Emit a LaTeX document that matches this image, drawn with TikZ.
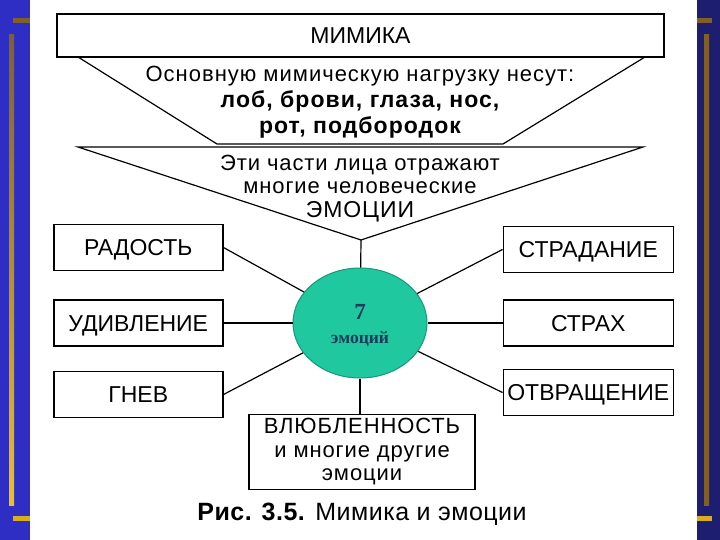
\documentclass[tikz,border=0pt]{standalone}
\usepackage{fontspec}
\setmainfont{Liberation Sans}
\newfontfamily\timesfont{Liberation Serif}
\usetikzlibrary{positioning,shapes.geometric}
\definecolor{slideblue}{RGB}{46,46,196}
\definecolor{slidenavy}{RGB}{30,30,112}
\definecolor{bargold}{RGB}{240,192,24}
\definecolor{bardark}{RGB}{128,96,40}
\definecolor{emofill}{RGB}{32,200,160}
\definecolor{emoline}{RGB}{26,150,120}
\definecolor{emotext}{RGB}{30,60,90}

\begin{document}
\begin{tikzpicture}[x=1pt, y=-1pt,
        emobox/.style={draw, line width=1.5pt, minimum width=169pt, minimum height=46pt, inner sep=0pt, text height=16pt, text depth=0pt, font=\fontsize{23}{26}\selectfont},
        centre/.style={ellipse, draw=emoline, line width=1pt, fill=emofill, minimum width=134pt, minimum height=110pt, inner sep=0pt},
        link/.style={line width=1.2pt},
        textblock/.style={align=center, inner sep=0pt},
        spaced/.style={font=\fontsize{22}{23.5}\selectfont\addfontfeatures{LetterSpace=4}},
        node distance=69pt
        ]
        \useasboundingbox (0,0) rectangle (720,540);
        % slide background
        \fill[slideblue] (0,0) rectangle (360,540);
        \fill[slidenavy] (360,0) rectangle (720,540);
        \fill[white] (30,0) rectangle (697,540);
        \shade[top color=bardark, bottom color=bargold] (9,35) rectangle (14,505);
        \fill[bardark] (13,18) rectangle (30,23);
        \fill[bargold!80!bardark] (13,516) rectangle (30,521);
        \shade[top color=bardark, middle color=bargold, bottom color=bardark] (704,35) rectangle (709,505);
        \fill[bardark] (697,18) rectangle (712,23);
        \fill[bargold!80!bardark] (697,516) rectangle (712,521);

        % header and funnels
        \node[emobox, minimum width=607pt, minimum height=43pt] (mimika) at (360.5,35.5) {МИМИКА};
        \draw[link] (78,57) -- (217,144) -- (503,144) -- (645,57);
        \coordinate (apex) at (361,240);
        \draw[link] (78,147) -- (643,147) -- (apex) -- cycle;
        \node[textblock, font=\fontsize{22}{26}\selectfont\addfontfeatures{LetterSpace=4.5}] (load) at (360,102) {Основную мимическую нагрузку несут:\\ {\fontsize{23}{26}\selectfont\bfseries лоб, брови, глаза, нос,}\\ {\fontsize{23}{26}\selectfont\bfseries рот, подбородок}};
        \node[textblock, spaced] (parts) at (360,188.5) {Эти части лица отражают\\ многие человеческие\\ {\fontsize{23}{23.5}\selectfont ЭМОЦИИ}};

        % emotions
        \node[centre] (emo) at (360,323) {};
        \node[text=emotext, font=\timesfont\bfseries\fontsize{23}{26}\selectfont, inner sep=0pt] (seven) at (360,312) {7};
        \node[text=emotext, font=\timesfont\bfseries\fontsize{17.5}{20}\selectfont, inner sep=0pt] (seventext) at (360,339) {эмоций};
        \node[emobox] (udiv) [left=69pt of emo] {УДИВЛЕНИЕ};
        \node[emobox] (rad) [above=28pt of udiv] {РАДОСТЬ};
        \node[emobox] (gnev) [below=24pt of udiv] {ГНЕВ};
        \node[emobox, minimum width=170pt] (strakh) [right=75pt of emo] {СТРАХ};
        \node[emobox, minimum width=170pt] (strad) [above=26pt of strakh] {СТРАДАНИЕ};
        \node[emobox, minimum width=170pt] (otvr) [below=22pt of strakh] {ОТВРАЩЕНИЕ};
        \node[emobox, minimum width=226pt, minimum height=75pt, align=center, text height=, text depth=, spaced] (love) [below=35pt of emo, xshift=2pt] {ВЛЮБЛЕННОСТЬ\\ и многие другие\\ эмоции};
        \draw[link] (apex) -- (emo);
        \draw[link] (rad.east) -- (emo);
        \draw[link] (udiv) -- (emo);
        \draw[link] (gnev.east) -- (emo);
        \draw[link] (strad.west) -- (emo);
        \draw[link] (strakh) -- (emo);
        \draw[link] (otvr.west) -- (emo);
        \draw[link] (emo.south) -- (emo.south |- love.north);

        \node[font=\fontsize{25}{28}\selectfont\addfontfeatures{LetterSpace=2}] (caption) at (362,514) {\textbf{Рис. 3.5.} Мимика и эмоции};
\end{tikzpicture}
\end{document}
